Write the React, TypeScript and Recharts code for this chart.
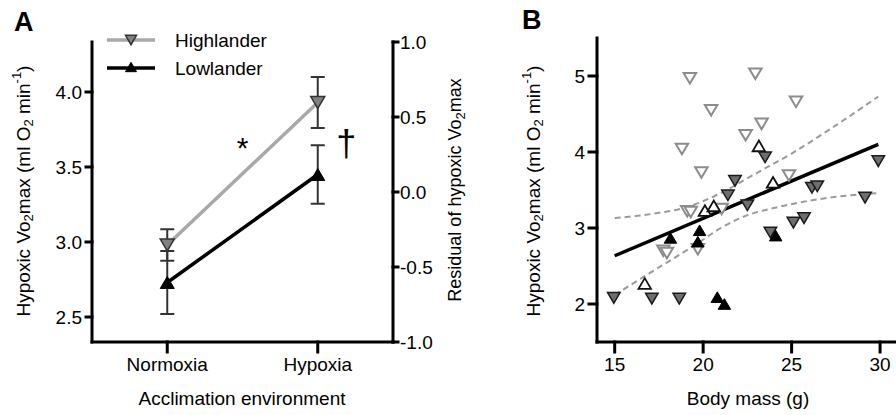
import React from 'react'
import {
  ComposedChart, Line, Scatter, XAxis, YAxis, ErrorBar, ReferenceDot, Legend
} from 'recharts'

const FONT = '"Liberation Sans", Arial, Helvetica, sans-serif'

// ---- panel A: group means +/- s.e.m.
const conditions = ['Normoxia', 'Hypoxia']
const highlanderMean = [2.98, 3.93]
const highlanderSem = [0.105, 0.17]
const lowlanderMean = [2.73, 3.45]
const lowlanderSem = [0.21, 0.195]
const vo2Ticks = [2.5, 3.0, 3.5, 4.0]
const residualTicks = [-1.0, -0.5, 0.0, 0.5, 1.0]

// ---- panel B: individual mice, [body mass (g), hypoxic VO2max]
const hiOpen = [
  [19.25, 4.97], [22.95, 5.03], [25.25, 4.66], [20.45, 4.55], [23.3, 4.37],
  [22.4, 4.22], [18.8, 4.04], [19.9, 3.73], [24.85, 3.69], [19.1, 3.22],
  [19.3, 3.21], [21.05, 3.25], [17.75, 2.7], [17.95, 2.67], [19.7, 2.72],
]
const hiFilled = [
  [14.95, 2.08], [17.1, 2.07], [18.65, 2.07], [21.4, 3.43], [21.8, 3.62],
  [22.5, 3.3], [23.5, 3.93], [25.1, 3.07], [25.7, 3.13], [26.15, 3.53],
  [26.45, 3.55], [29.15, 3.4], [29.9, 3.88], [23.8, 2.94],
]
const loOpen = [[16.7, 2.27], [20.1, 3.23], [20.6, 3.29], [23.15, 4.08], [23.95, 3.6]]
const loFilled = [[18.15, 2.87], [19.8, 2.97], [19.7, 2.82], [20.8, 2.09], [21.2, 2.0], [24.1, 2.9]]
const fitLine = [[15, 2.635], [29.9, 4.1]]
const ciUpper = [[15, 3.13], [17.5, 3.2], [19, 3.27], [21, 3.46], [23, 3.72], [25, 3.98], [27.5, 4.35], [29.9, 4.73]]
const ciLower = [[15, 2.12], [17, 2.41], [19.7, 2.8], [21, 3.0], [22, 3.12], [24.7, 3.3], [27.5, 3.41], [29.9, 3.46]]
const massTicks = [15, 20, 25, 30]
const vo2TicksB = [2, 3, 4, 5]

const toPts = (a: number[][]) => a.map(([x, y]) => ({ x, y }))

function tri(cx: number, cy: number, size: number, down: boolean) {
  const h = size * 0.85
  return down
    ? `${cx - size / 2},${cy - h / 2} ${cx + size / 2},${cy - h / 2} ${cx},${cy + h / 2}`
    : `${cx - size / 2},${cy + h / 2} ${cx + size / 2},${cy + h / 2} ${cx},${cy - h / 2}`
}

const makeShape = (down: boolean, fill: string, stroke: string, sw: number, size = 12.5) =>
  (p: any) => {
    if (p.cx == null || p.cy == null) return <g key={p.index} />
    return (
      <polygon key={p.index} points={tri(p.cx, p.cy, size, down)}
        fill={fill} stroke={stroke} strokeWidth={sw} strokeLinejoin="miter" />
    )
  }

const axisStyle = { stroke: '#000', strokeWidth: 3, strokeLinecap: 'square' as const }
const tickFont = { fill: '#000', fontSize: 19, fontFamily: FONT }

function VoTitle({ x, y, size }: { x: number; y: number; size: number }) {
  const s = Math.round(size * 0.7)
  return (
    <text transform={`translate(${x},${y}) rotate(-90)`} textAnchor="middle" dominantBaseline="central"
      fontSize={size} fontFamily={FONT} fill="#000">
      Hypoxic Vo<tspan dy={5} fontSize={s}>2</tspan><tspan dy={-5}>max (ml O</tspan>
      <tspan dy={5} fontSize={s}>2</tspan><tspan dy={-5}> min</tspan>
      <tspan dy={-7} fontSize={s}>-1</tspan><tspan dy={7}>)</tspan>
    </text>
  )
}

function LegendA() {
  return (
    <svg width={200} height={60} style={{ display: 'block' }}>
      <line x1={7} y1={20} x2={55} y2={20} stroke="#a8a8a8" strokeWidth={3.5} />
      <polygon points={tri(31, 20, 11, true)} fill="#808080" stroke="#333" strokeWidth={1.5} />
      <text x={75} y={20} dominantBaseline="central" fontSize={19} fontFamily={FONT}>Highlander</text>
      <line x1={7} y1={48} x2={55} y2={48} stroke="#000" strokeWidth={3.5} />
      <polygon points={tri(31, 47, 11, false)} fill="#000" stroke="#000" strokeWidth={1} />
      <text x={75} y={48} dominantBaseline="central" fontSize={19} fontFamily={FONT}>Lowlander</text>
    </svg>
  )
}

export default function App() {
  const dataA = conditions.map((c, i) => ({
    x: i, name: c,
    high: highlanderMean[i], highErr: highlanderSem[i],
    low: lowlanderMean[i], lowErr: lowlanderSem[i],
  }))

  return (
    <div style={{ position: 'absolute', left: 0, top: 0, width: 896, height: 415, background: '#fff', fontFamily: FONT }}>
      {/* panel A */}
      <div style={{ position: 'absolute', left: 0, top: 0 }}>
        <ComposedChart width={490} height={415} data={dataA} margin={{ top: 42, right: 47, bottom: 23, left: 32 }}>
          <XAxis type="number" dataKey="x" domain={[-0.5, 1.5]} ticks={[0, 1]} allowDataOverflow
            tickFormatter={(i: number) => conditions[i]} height={50}
            axisLine={axisStyle} tickLine={axisStyle} tickSize={10} tickMargin={6} tick={tickFont} />
          <YAxis yAxisId="left" domain={[2.3333, 4.3333]} ticks={vo2Ticks} allowDataOverflow width={60}
            tickFormatter={(v: number) => v.toFixed(1)}
            axisLine={axisStyle} tickLine={axisStyle} tickSize={6} tickMargin={4} tick={tickFont} />
          <YAxis yAxisId="right" orientation="right" domain={[-1, 1]} ticks={residualTicks} allowDataOverflow width={50}
            tickFormatter={(v: number) => v.toFixed(1)}
            axisLine={axisStyle} tickLine={axisStyle} tickSize={5} tickMargin={2} tick={tickFont} />
          <Legend layout="vertical" align="center" verticalAlign="middle" content={() => <LegendA />}
            wrapperStyle={{ left: 100, top: 20, width: 200, height: 60 }} />
          <Line yAxisId="left" dataKey="high" stroke="#a8a8a8" strokeWidth={3.5} isAnimationActive={false}
            dot={makeShape(true, '#808080', '#333', 1.5, 14)} activeDot={false}>
            <ErrorBar dataKey="highErr" direction="y" width={7} stroke="#333" strokeWidth={2} />
          </Line>
          <Line yAxisId="left" dataKey="low" stroke="#000" strokeWidth={3.5} isAnimationActive={false}
            dot={makeShape(false, '#000', '#000', 1, 14)} activeDot={false}>
            <ErrorBar dataKey="lowErr" direction="y" width={7} stroke="#333" strokeWidth={2} />
          </Line>
          <ReferenceDot yAxisId="left" x={0.5} y={3.63} r={0} fill="none" stroke="none"
            label={{ value: '*', position: 'center', fontSize: 30, fill: '#000', fontFamily: FONT }} />
          <ReferenceDot yAxisId="left" x={1.19} y={3.66} r={0} fill="none" stroke="none"
            label={{ value: '†', position: 'center', fontSize: 36, fill: '#000', fontFamily: FONT }} />
        </ComposedChart>
      </div>

      {/* panel B */}
      <div style={{ position: 'absolute', left: 490, top: 0 }}>
        <ComposedChart width={406} height={415} margin={{ top: 38, right: 0, bottom: 23, left: 47 }}>
          <XAxis type="number" dataKey="x" domain={[14, 30.9]} ticks={massTicks} allowDataOverflow height={50}
            axisLine={axisStyle} tickLine={axisStyle} tickSize={10} tickMargin={6} tick={tickFont} />
          <YAxis type="number" dataKey="y" domain={[1.5, 5.5]} ticks={vo2TicksB} allowDataOverflow width={60}
            axisLine={axisStyle} tickLine={axisStyle} tickSize={8} tickMargin={4} tick={tickFont} />
          <Scatter data={toPts(hiOpen)} dataKey="y" isAnimationActive={false} shape={makeShape(true, '#fff', '#8c8c8c', 2)} />
          <Scatter data={toPts(loOpen)} dataKey="y" isAnimationActive={false} shape={makeShape(false, '#fff', '#111', 1.8)} />
          <Scatter data={toPts(hiFilled)} dataKey="y" isAnimationActive={false} shape={makeShape(true, '#6e6e6e', '#1a1a1a', 1.5)} />
          <Scatter data={toPts(loFilled)} dataKey="y" isAnimationActive={false} shape={makeShape(false, '#000', '#000', 1)} />
          <Line data={toPts(ciUpper)} dataKey="y" type="monotone" stroke="#9a9a9a" strokeWidth={2}
            strokeDasharray="6 4" dot={false} activeDot={false} isAnimationActive={false} />
          <Line data={toPts(ciLower)} dataKey="y" type="monotone" stroke="#9a9a9a" strokeWidth={2}
            strokeDasharray="6 4" dot={false} activeDot={false} isAnimationActive={false} />
          <Line data={toPts(fitLine)} dataKey="y" type="linear" stroke="#000" strokeWidth={3.5}
            dot={false} activeDot={false} isAnimationActive={false} />
        </ComposedChart>
      </div>

      {/* titles */}
      <svg width={896} height={415} style={{ position: 'absolute', left: 0, top: 0, pointerEvents: 'none' }}>
        <text x={14} y={31} fontSize={27} fontWeight="bold" fontFamily={FONT}>A</text>
        <text x={522} y={29} fontSize={27} fontWeight="bold" fontFamily={FONT}>B</text>
        <VoTitle x={23} y={191} size={19} />
        <text transform="translate(455,190) rotate(-90)" textAnchor="middle" dominantBaseline="central"
          fontSize={18} fontFamily={FONT}>
          Residual of hypoxic Vo<tspan dy={5} fontSize={13}>2</tspan><tspan dy={-5}>max</tspan>
        </text>
        <text x={242} y={398} textAnchor="middle" dominantBaseline="central" fontSize={19} fontFamily={FONT}>
          Acclimation environment
        </text>
        <VoTitle x={533} y={191} size={19} />
        <text x={748} y={398} textAnchor="middle" dominantBaseline="central" fontSize={19} fontFamily={FONT}>
          Body mass (g)
        </text>
      </svg>
    </div>
  )
}
